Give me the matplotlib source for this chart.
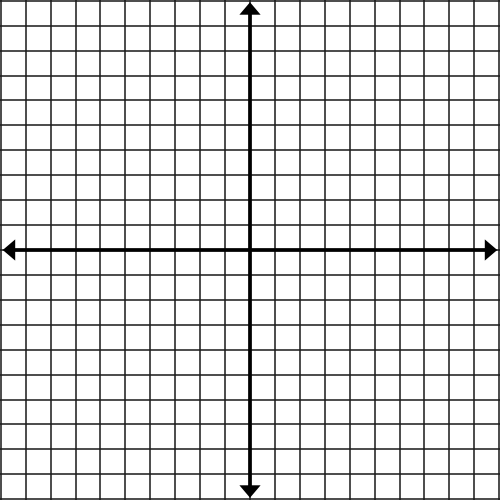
import matplotlib
matplotlib.use("Agg")
import matplotlib.pyplot as plt
import numpy as np

# grid extent (units) and arrow tips
x_ticks = list(range(-10, 11))
y_ticks = list(range(-10, 11))
axis_tips = [(9.92, 0), (-9.92, 0), (0, 9.94), (0, -9.94)]

fig = plt.figure(figsize=(5, 5), dpi=100)
ax = fig.add_axes([0, 0, 1, 1])
ax.set_xlim(-10.03, 10.03)
ax.set_ylim(-10.03, 10.03)

for x in x_ticks:
    ax.axvline(x, color="#1a1a1a", lw=1.1, zorder=1)
for y in y_ticks:
    ax.axhline(y, color="#1a1a1a", lw=1.1, zorder=1)

# ── axes with arrowheads ─────────────────────────────
for dx, dy in axis_tips:
    ax.arrow(0, 0, dx, dy, width=0.15, head_width=0.85, head_length=0.5,
             length_includes_head=True, color="black", zorder=3, lw=0)

ax.set_axis_off()
fig.savefig("out.png", dpi=100, facecolor="white")
